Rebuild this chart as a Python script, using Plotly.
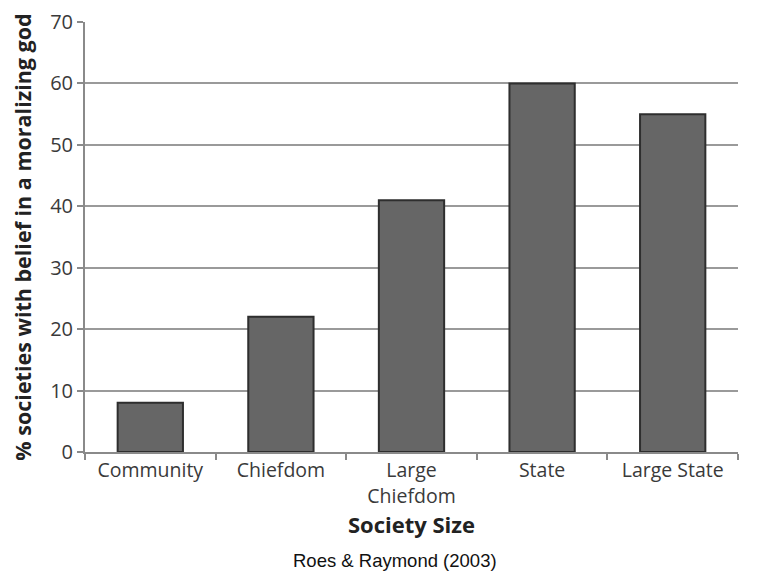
import plotly.graph_objects as go

categories = ["Community", "Chiefdom", "Large<br>Chiefdom", "State", "Large State"]
values = [8, 22, 41, 60, 55]
y_ticks = [0, 10, 20, 30, 40, 50, 60, 70]

fig = go.Figure()
fig.add_trace(go.Bar(
    x=categories, y=values,
    marker=dict(color="#666666", line=dict(color="#2e2e2e", width=2)),
    width=0.5,
))

font_main = "Open Sans, Lato, sans-serif"

# page body has an 8px margin; compensate so the plot lands where the reference has it
W, H = 753, 576
ML, MR, MT, MB = 77, 23, 14, 132

fig.update_layout(
    width=W, height=H,
    margin=dict(l=ML, r=MR, t=MT, b=MB),
    paper_bgcolor="white", plot_bgcolor="white",
    showlegend=False,
    font=dict(family=font_main, color="#333333"),
    xaxis=dict(
        range=[-0.5, 4.5], automargin=False,
        showline=True, linecolor="#8a8a8a", linewidth=2,
        ticks="outside", tickson="boundaries", ticklen=6, tickcolor="#8a8a8a", tickwidth=1.5,
        tickfont=dict(size=19.5, color="#3a3a3a", family=font_main),
        title=dict(text="<b>Society Size</b>", font=dict(size=22, color="#222222", family=font_main), standoff=7),
    ),
    yaxis=dict(
        range=[0, 70], tickvals=y_ticks, automargin=False,
        showline=True, linecolor="#8a8a8a", linewidth=2,
        ticks="outside", ticklen=6, tickcolor="#8a8a8a", tickwidth=1.5,
        showgrid=True, gridcolor="#9a9a9a", gridwidth=1.5,
        zeroline=False,
        tickfont=dict(size=20, color="#3a3a3a", family=font_main),
        title=dict(text="<b>% societies with belief in a moralizing god</b>",
                   font=dict(size=21.5, color="#222222", family=font_main), standoff=17),
    ),
    bargap=0.5,
)

plot_h = H - MT - MB
plot_w = W - ML - MR
fig.add_annotation(
    text="Roes & Raymond (2003)", xref="paper", yref="paper",
    x=(395 - 85) / plot_w, y=-(560 - 452) / plot_h,
    xanchor="center", yanchor="middle", showarrow=False,
    font=dict(family="Liberation Sans, Arial, sans-serif", size=18.5, color="#111111"),
)

fig.write_html("out.html")
